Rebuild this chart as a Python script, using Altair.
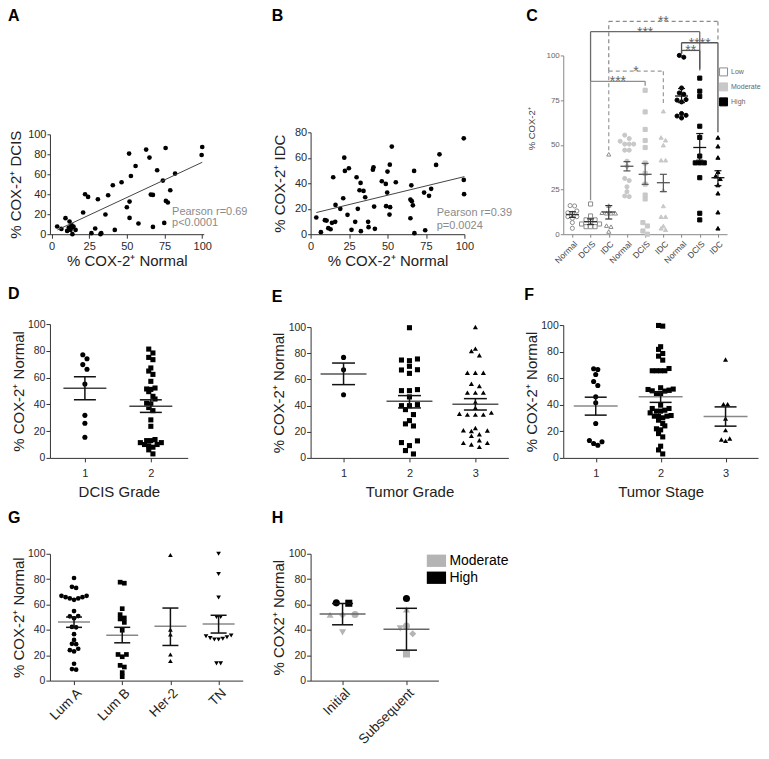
import json
import altair as alt
import pandas as pd

FONT = "Liberation Sans"
SUP = "\u207a"

# ---------------- Panel A: % COX-2+ DCIS vs Normal ----------------
A_normal = [3.8, 6.6, 9.3, 10.4, 11.5, 12.0, 12.6, 13.3, 13.9, 13.7, 14.6, 16.0, 21.0, 22.3, 24.3, 26.5,
            29.0, 30.8, 32.5, 33.0, 35.8, 37.6, 40.7, 42.0, 46.5, 50.0, 51.5, 51.8, 51.8, 52.7, 55.8, 57.7,
            62.8, 65.0, 65.9, 67.3, 67.3, 70.1, 73.9, 74.8, 75.7, 75.9, 77.2, 78.8, 82.0, 99.6, 100.0]
A_dcis = [7.7, 5.3, 16.0, 3.3, 6.7, 12.7, 4.3, 9.0, 0.0, 6.7, 7.7, 4.3, 21.7, 40.0, 37.3, 1.0,
          5.7, 35.0, 0.0, 1.0, 19.7, 39.0, 49.0, 4.3, 52.0, 27.0, 80.7, 32.7, 16.3, 58.3, 68.3, 10.7,
          84.7, 76.7, 39.7, 39.3, 7.3, 64.0, 53.7, 11.3, 86.3, 33.3, 31.7, 44.0, 60.7, 79.3, 87.3]
A_fit_x = [4.0, 100.0]
A_fit_y = [4.3, 72.0]
A_text = ["Pearson r=0.69", "p<0.0001"]

# ---------------- Panel B: % COX-2+ IDC vs Normal ----------------
B_normal = [3.7, 6.7, 9.3, 10.4, 11.5, 13.0, 13.9, 14.7, 16.0, 16.2, 19.3, 21.2, 21.9, 22.3, 24.0, 24.9,
            26.6, 29.0, 29.9, 30.7, 31.8, 32.5, 32.7, 34.4, 35.5, 37.4, 37.7, 40.5, 40.9, 41.3, 41.8, 46.3,
            48.9, 50.0, 49.8, 49.1, 51.3, 51.5, 51.7, 52.8, 55.4, 64.9, 64.9, 65.8, 65.5, 66.5, 67.3, 67.5,
            73.8, 74.5, 77.0, 78.4, 81.6, 83.8, 99.6, 99.6, 99.8]
B_idc = [13.1, 1.6, 11.0, 10.7, 4.7, 3.9, 8.9, 44.7, 9.7, 23.0, 19.9, 28.2, 60.1, 49.7, 15.2, 51.8,
         3.4, 9.7, 44.7, 19.9, 34.5, 40.3, 2.4, 34.0, 29.0, 9.7, 5.5, 50.7, 52.5, 21.7, 4.2, 41.6,
         39.5, 49.2, 32.7, 22.0, 15.4, 54.6, 21.2, 68.8, 40.8, 12.5, 27.2, 25.9, 38.4, 22.7, 49.7, 0.8,
         32.7, 3.1, 30.1, 35.6, 54.4, 62.7, 75.3, 42.6, 31.4]
B_fit_x = [3.7, 100.0]
B_fit_y = [17.0, 45.2]
B_text = ["Pearson r=0.39", "p=0.0024"]

# ---------------- Panel C: COX-2 by tissue and level ----------------
C_tissue = ["Normal", "DCIS", "IDC", "Normal", "DCIS", "IDC", "Normal", "DCIS", "IDC"]
C_level = ["Low", "Low", "Low", "Moderate", "Moderate", "Moderate", "High", "High", "High"]
C_values = [
    [16.0, 15.8, 13.0, 12.0, 11.7, 9.8, 9.8, 8.9, 6.5, 3.3],
    [16.9, 10.2, 8.0, 8.0, 7.0, 5.7, 5.7, 4.2, 4.2, 4.2],
    [44.7, 16.0, 12.0, 11.7, 11.7, 11.7, 4.8, 4.2, 1.5],
    [55.4, 53.5, 52.0, 50.4, 50.4, 50.4, 47.0, 47.0, 40.9, 38.0, 31.2, 30.0, 26.5, 23.8, 21.4, 21.0],
    [80.5, 68.4, 58.6, 52.4, 48.5, 39.8, 34.0, 28.0, 21.9, 19.7, 6.5, 4.6, 1.8, 0.0],
    [68.8, 54.1, 52.6, 49.8, 41.4, 41.4, 24.7, 15.8, 9.8, 9.8, 4.6, 3.3, 2.5],
    [100.0, 99.0, 81.8, 79.0, 78.3, 75.3, 75.0, 74.0, 67.5, 66.5, 66.1, 65.0],
    [87.3, 80.0, 77.1, 60.4, 54.1, 43.7, 39.9, 39.9, 39.9, 31.6, 11.7, 8.0],
    [54.1, 49.2, 42.9, 34.9, 32.5, 31.0, 27.5, 22.9, 12.3, 3.3],
]
C_mean = [11.0, 7.0, 12.4, 38.0, 33.5, 28.8, 77.3, 48.5, 31.6]
C_sem_lo = [9.4, 5.4, 8.5, 35.4, 27.9, 23.8, 73.6, 41.4, 27.2]
C_sem_hi = [12.6, 8.6, 16.0, 40.6, 39.6, 33.5, 81.5, 56.3, 35.5]
C_br_left = [2, 3, 2, 3, 7, 7]
C_br_right = [5, 6, 8, 9, 9, 8]
C_br_top = [85.5, 91.2, 113.3, 119.0, 107.1, 102.8]
C_br_lbot = [19.0, 47.0, 85.5, 91.2, 101.0, 101.0]
C_br_rbot = [83.0, 72.0, 91.5, 107.1, 57.0, 92.6]
C_br_label = ["***", "*", "***", "**", "****", "**"]

# ---------------- Panel D: DCIS grade ----------------
D_labels = ["1", "2"]
D_values = [
    [77.1, 74.1, 69.7, 66.2, 55.2, 31.8, 25.9, 15.4],
    [81.3, 78.4, 75.1, 73.4, 67.2, 64.9, 62.4, 57.2, 52.2, 51.5, 51.2, 49.5, 46.0, 44.0, 40.8, 40.3,
     37.6, 35.3, 28.4, 23.6, 13.7, 12.9, 12.9, 11.4, 11.4, 10.0, 10.0, 9.0, 8.0, 6.0, 3.0],
]
D_mean = [52.0, 38.6]
D_lo = [43.5, 34.0]
D_hi = [60.7, 43.4]

# ---------------- Panel E: tumor grade ----------------
E_labels = ["1", "2", "3"]
E_values = [
    [76.8, 67.4, 48.3],
    [99.5, 75.6, 74.8, 74.3, 70.0, 67.4, 67.2, 64.6, 52.2, 51.4, 51.4, 46.6, 40.7, 39.9, 39.9, 36.9,
     33.1, 28.5, 26.0, 24.4, 13.0, 11.7, 9.4, 5.6, 3.0],
    [100.0, 83.5, 81.7, 78.4, 65.1, 65.1, 65.1, 56.7, 55.0, 49.9, 49.9, 49.9, 42.7, 38.2, 34.6, 33.8,
     33.1, 33.1, 33.1, 22.9, 21.1, 20.9, 20.6, 18.1, 16.8, 13.5, 11.5, 11.5, 10.2, 8.4],
]
E_mean = [64.2, 43.3, 41.0]
E_lo = [56.0, 38.2, 36.6]
E_hi = [72.5, 47.6, 45.3]

# ---------------- Panel F: tumor stage ----------------
F_labels = ["1", "2", "3"]
F_values = [
    [67.1, 66.6, 62.8, 57.5, 54.5, 46.0, 41.5, 25.9, 13.1, 12.1, 10.8, 9.5],
    [99.7, 99.2, 83.7, 81.7, 78.6, 76.6, 73.6, 67.3, 65.6, 65.6, 65.6, 65.6, 52.8, 51.8, 51.5, 51.0,
     50.5, 50.3, 48.5, 48.5, 39.7, 37.2, 37.2, 35.9, 35.2, 35.2, 33.9, 31.9, 31.4, 31.4, 31.2, 30.2,
     28.4, 25.9, 24.1, 21.9, 21.1, 18.3, 15.8, 8.8, 6.0, 3.0],
    [74.1, 40.5, 40.5, 29.7, 20.9, 14.6, 13.9, 12.8],
]
F_mean = [39.0, 46.0, 31.2]
F_lo = [32.2, 41.8, 23.9]
F_hi = [45.7, 49.5, 38.4]

# ---------------- Panel G: subtype ----------------
G_labels = ["Lum A", "Lum B", "Her-2", "TN"]
G_values = [
    [80.9, 73.9, 73.1, 66.8, 66.8, 65.8, 65.8, 64.8, 64.8, 63.7, 54.8, 50.9, 50.7, 49.1, 42.3, 42.0,
     36.6, 32.1, 29.0, 28.7, 25.1, 24.0, 23.0, 13.3, 9.1, 8.6],
    [77.6, 76.8, 56.7, 52.0, 49.4, 48.6, 45.9, 39.7, 20.6, 20.6, 18.8, 12.0, 10.7, 6.3, 3.1],
    [99.0, 40.2, 36.3, 20.6, 15.4],
    [100.0, 84.1, 65.5, 50.1, 50.1, 35.5, 35.0, 34.2, 33.0, 32.4, 32.4, 33.5, 13.6, 13.6],
]
G_mean = [46.2, 35.7, 42.8, 44.6]
G_lo = [42.0, 29.8, 27.7, 37.5]
G_hi = [50.1, 42.0, 57.2, 51.5]

# ---------------- Panel H: initial vs subsequent ----------------
H_labels = ["Initial", "Subsequent"]
H_values = [[61.3, 61.0, 51.9, 51.7, 52.1, 38.0],
            [64.8, 56.2, 43.0, 41.2, 37.0, 21.0]]
H_shapes = [["circle", "square", "triangle-up", "diamond", "circle", "triangle-down"],
            ["circle", "triangle-up", "circle", "triangle-down", "diamond", "square"]]
H_levels = [["High", "High", "Moderate", "Moderate", "Moderate", "Moderate"],
            ["High", "Moderate", "Moderate", "Moderate", "Moderate", "Moderate"]]
H_mean = [52.5, 40.4]
H_lo = [44.0, 24.0]
H_hi = [60.8, 57.0]


# ======================================================================
def ax(**kw):
    base = dict(grid=False, labelFont=FONT, titleFont=FONT, labelFlush=False, labelOverlap=False,
                titleFontWeight="normal", domainColor="#333", tickColor="#333", labelColor="#2a2a2a",
                titleColor="#222", domainWidth=1, tickWidth=1, labelPadding=2, tickSize=4)
    base.update(kw)
    return alt.Axis(**base)


def letter_layer(ch, x, y):
    return alt.Chart(pd.DataFrame({"t": [ch]})).mark_text(
        align="left", baseline="top", fontSize=16, fontWeight="bold", font=FONT, color="black"
    ).encode(x=alt.value(x), y=alt.value(y), text="t:N")


def swarm(values, ppu_y, row_px, slot_px, ppu_x):
    """Prism-like dot arrangement: points of similar height share a centred row."""
    order = sorted(range(len(values)), key=lambda i: values[i])
    offs = [0.0] * len(values)
    rows, cur, start = [], [], None
    for i in order:
        if cur and (values[i] - start) * ppu_y > row_px:
            rows.append(cur)
            cur = []
        if not cur:
            start = values[i]
        cur.append(i)
    if cur:
        rows.append(cur)
    for row in rows:
        slots = [0 if k == 0 else ((k + 1) // 2) * (-1 if k % 2 else 1) for k in range(len(row))]
        shift = -sum(slots) / len(slots)
        for i, s in zip(row, slots):
            offs[i] = (s + shift) * slot_px / ppu_x
    return offs


def scatter_panel(letter, lxy, xs, ys, fit_x, fit_y, texts, tx, ty, ydom, yvals, ytop, ytitle,
                  width, height, xdom, ytitle_x):
    X = alt.X("x:Q", scale=alt.Scale(domain=xdom, nice=False, zero=False),
              axis=ax(values=[0, 25, 50, 75, 100], title="% COX-2" + SUP + " Normal",
                      labelFontSize=11, titleFontSize=15, titleY=19))
    Y = alt.Y("y:Q", scale=alt.Scale(domain=ydom, nice=False, zero=False, range=[height, ytop]),
              axis=ax(values=yvals, title=ytitle, labelFontSize=11, titleFontSize=15, tickSize=3,
                      labelPadding=1, titleX=ytitle_x))
    pts = alt.Chart(pd.DataFrame({"x": xs, "y": ys})).mark_circle(
        size=22, color="black", opacity=1).encode(X, Y)
    fit = alt.Chart(pd.DataFrame({"x": fit_x, "y": fit_y})).mark_line(
        color="#444", strokeWidth=1).encode(X, Y)
    txt = alt.Chart(pd.DataFrame({"x": tx, "y": ty, "t": texts})).mark_text(
        align="left", baseline="middle", fontSize=11, color="#8a8a8a", font=FONT
    ).encode(X, Y, text="t:N")
    return alt.layer(pts, fit, txt, letter_layer(letter, *lxy)).properties(width=width, height=height)


def dot_panel(letter, lxy, groups, shapes, labels, means, lo, hi, width, height, ytop, ytitle,
              xtitle, dom, size, slot_px, row_px, mean_w, cap_w, mean_color, ytitle_x,
              rotate=False, levels=None, legend=None):
    n = len(groups)
    ppu_y = (height - ytop) / 100.0
    ppu_x = width / (dom[1] - dom[0])
    recs = []
    for gi, vals in enumerate(groups):
        offs = swarm(vals, ppu_y, row_px, slot_px, ppu_x)
        for k, (v, o) in enumerate(zip(vals, offs)):
            shp = shapes[gi][k] if isinstance(shapes[gi], list) else shapes[gi]
            rec = {"x": gi + 1 + o, "y": v, "shape": shp}
            if levels:
                rec["level"] = levels[gi][k]
            recs.append(rec)
    df = pd.DataFrame(recs)
    cats = list(range(1, n + 1))
    lab_expr = json.dumps(labels) + "[datum.value - 1]"
    if rotate:
        xaxis = ax(values=cats, labelExpr=lab_expr, title=xtitle, labelAngle=-45, labelFontSize=13.5,
                   labelColor="#222", labelPadding=1)
    else:
        xaxis = ax(values=cats, labelExpr=lab_expr, title=xtitle, labelAngle=0, labelFontSize=11,
                   labelPadding=6, titleFontSize=15, titleY=27)
    X = alt.X("x:Q", scale=alt.Scale(domain=dom, nice=False, zero=False), axis=xaxis)
    Y = alt.Y("y:Q", scale=alt.Scale(domain=[0, 100], nice=False, zero=False, range=[height, ytop]),
              axis=ax(values=[0, 20, 40, 60, 80, 100], title=ytitle, titleX=ytitle_x,
                      labelFontSize=10.5, titleFontSize=15, tickSize=4, labelPadding=1))
    if legend is not None:
        col = alt.Color("level:N", scale=alt.Scale(domain=["Moderate", "High"],
                                                   range=["#b4b4b4", "black"]), legend=legend)
    else:
        col = alt.value("black")
    pts = alt.Chart(df).mark_point(filled=True, opacity=1, size=size, strokeWidth=0).encode(
        X, Y, shape=alt.Shape("shape:N", scale=None), color=col)
    dfm = pd.DataFrame({"x": cats, "y": means})
    dfs = pd.DataFrame({"x": cats, "y": lo, "y2": hi})
    dfc = pd.DataFrame({"x": cats + cats, "y": lo + hi})
    mean = alt.Chart(dfm).mark_tick(orient="horizontal", size=mean_w, thickness=1.5,
                                    color=mean_color, opacity=1).encode(X, Y)
    sem = alt.Chart(dfs).mark_rule(color="#111", strokeWidth=1.5).encode(X, Y, y2="y2:Q")
    caps = alt.Chart(dfc).mark_tick(orient="horizontal", size=cap_w, thickness=1.5,
                                    color="#111", opacity=1).encode(X, Y)
    return alt.layer(pts, mean, sem, caps, letter_layer(letter, *lxy)).properties(
        width=width, height=height)


def panel_c():
    width, height = 164, 179
    ppu_x = width / 9.0
    shape_of = {"Normal": "circle", "DCIS": "square", "IDC": "triangle-up"}
    recs = []
    for gi, vals in enumerate(C_values):
        offs = swarm(vals, height / 100.0, 3.5, 4.5, ppu_x)
        for v, o in zip(vals, offs):
            recs.append({"x": gi + 1 + o, "y": v, "shape": shape_of[C_tissue[gi]],
                         "level": C_level[gi]})
    df = pd.DataFrame(recs)
    lab_expr = json.dumps(C_tissue) + "[datum.value - 1]"
    X = alt.X("x:Q", scale=alt.Scale(domain=[0.5, 9.5], nice=False, zero=False),
              axis=ax(values=list(range(1, 10)), labelExpr=lab_expr, title=None, labelAngle=-45,
                      labelFontSize=8.5, labelColor="#444", domainColor="#888", tickColor="#888",
                      tickSize=3))
    Y = alt.Y("y:Q", scale=alt.Scale(domain=[0, 100], nice=False, zero=False),
              axis=ax(values=[0, 25, 50, 75, 100], title="% COX-2" + SUP, labelFontSize=8,
                      labelColor="#666", domainColor="#888", tickColor="#888", tickSize=3,
                      labelPadding=1, titleFontSize=9.5, titleColor="#444", titleX=-27, titleY=73))
    lvl_dom = ["Low", "Moderate", "High"]
    leg = alt.Legend(orient="none", legendX=156, legendY=12, title=None, symbolType="square",
                     symbolSize=64, labelFontSize=7, labelColor="#666", labelFont=FONT,
                     rowPadding=2, padding=0, symbolStrokeWidth=1, labelOffset=3)
    pts = alt.Chart(df).mark_point(filled=True, opacity=1, size=17, strokeWidth=1).encode(
        X, Y, shape=alt.Shape("shape:N", scale=None),
        fill=alt.Fill("level:N", scale=alt.Scale(domain=lvl_dom, range=["white", "#c8c8c8", "black"]),
                      legend=leg),
        stroke=alt.Stroke("level:N", scale=alt.Scale(domain=lvl_dom,
                                                     range=["#8c8c8c", "#c8c8c8", "black"]),
                          legend=leg))
    cats = list(range(1, 10))
    bar_col = ["#333", "#333", "#333", "#555", "#555", "#555", "#111", "#111", "#111"]
    dfm = pd.DataFrame({"x": cats, "y": C_mean, "c": bar_col})
    dfs = pd.DataFrame({"x": cats, "y": C_sem_lo, "y2": C_sem_hi, "c": bar_col})
    dfc = pd.DataFrame({"x": cats + cats, "y": C_sem_lo + C_sem_hi, "c": bar_col + bar_col})
    colenc = alt.Color("c:N", scale=None)
    mean = alt.Chart(dfm).mark_tick(orient="horizontal", size=13, thickness=1.3, opacity=1).encode(
        X, Y, color=colenc)
    sem = alt.Chart(dfs).mark_rule(strokeWidth=1.2).encode(X, Y, y2="y2:Q", color=colenc)
    caps = alt.Chart(dfc).mark_tick(orient="horizontal", size=7, thickness=1.2, opacity=1).encode(
        X, Y, color=colenc)
    # significance brackets
    dashed = [False, True, False, True, False, False]
    bcol = ["#8f8f8f", "#9a9a9a", "#6a6a6a", "#8a8a8a", "#555555", "#555555"]
    segs = []
    for i in range(len(C_br_left)):
        l, r, t = C_br_left[i], C_br_right[i], C_br_top[i]
        for (x1, x2, y1, y2) in [(l, l, C_br_lbot[i], t), (l, r, t, t), (r, r, t, C_br_rbot[i])]:
            segs.append({"x": x1, "x2": x2, "y": y1, "y2": y2, "c": bcol[i], "d": dashed[i]})
    dseg = pd.DataFrame(segs)
    solid = alt.Chart(dseg[~dseg["d"]].drop(columns="d")).mark_rule(strokeWidth=1.3).encode(
        X, Y, x2="x2:Q", y2="y2:Q", color=colenc)
    dash = alt.Chart(dseg[dseg["d"]].drop(columns="d")).mark_rule(
        strokeWidth=1.2, strokeDash=[4, 3]).encode(X, Y, x2="x2:Q", y2="y2:Q", color=colenc)
    dstar = pd.DataFrame({"x": [(a + b) / 2 for a, b in zip(C_br_left, C_br_right)],
                          "y": C_br_top, "t": C_br_label})
    stars = alt.Chart(dstar).mark_text(baseline="alphabetic", dy=5, fontSize=14, color="#666",
                                       font=FONT).encode(X, Y, text="t:N")
    return alt.layer(solid, dash, pts, mean, sem, caps, stars,
                     letter_layer("C", -37, -47)).properties(width=width, height=height)


def spacer(w):
    return alt.Chart(pd.DataFrame({"a": [0]})).mark_point(opacity=0, size=1).encode(
        x=alt.value(0), y=alt.value(0)).properties(width=w, height=1)


yN = "% COX-2" + SUP + " Normal"

pA = scatter_panel("A", (-42, -47), A_normal, A_dcis, A_fit_x, A_fit_y, A_text, [80, 80], [22, 11],
                   [0, 100], [0, 20, 40, 60, 80, 100], 79, "% COX-2" + SUP + " DCIS", 154, 179,
                   [-1, 101], -26)
pB = scatter_panel("B", (-39, -47), B_normal, B_idc, B_fit_x, B_fit_y, B_text, [82, 82], [17, 6.5],
                   [0, 80], [0, 20, 40, 60, 80], 77, "% COX-2" + SUP + " IDC", 154, 179,
                   [0, 100], -23)
pC = panel_c()

pD = dot_panel("D", (-42, -38), D_values, ["circle", "square"], D_labels, D_mean, D_lo, D_hi,
               138, 134, 0, yN, "DCIS Grade", [0.47, 2.56], 26, 4.2, 5, 43, 22, "#444", -23)
pE = dot_panel("E", (-39, -35), E_values, ["circle", "square", "triangle-up"], E_labels, E_mean,
               E_lo, E_hi, 198, 134, 3, yN, "Tumor Grade", [0.5, 3.5], 26, 8, 5, 46, 23, "#555", -24)
pF = dot_panel("F", (-39, -37), F_values, ["circle", "square", "triangle-up"], F_labels, F_mean,
               F_lo, F_hi, 195, 134, 1, yN, "Tumor Stage", [0.5, 3.5], 26, 4.2, 5, 44, 22, "#888", -24)
pG = dot_panel("G", (-42, -38), G_values, ["circle", "square", "triangle-up", "triangle-down"],
               G_labels, G_mean, G_lo, G_hi, 193, 133, 6, yN, None, [0.5, 4.5], 22, 4.2, 4, 32, 16,
               "#888", -23, rotate=True)
legH = alt.Legend(orient="none", legendX=116, legendY=3, title=None,
                  symbolType="M-1,-0.64L1,-0.64L1,0.64L-1,0.64Z", symbolSize=372, labelFontSize=14,
                  labelColor="black", labelFont=FONT, rowPadding=0, padding=0, symbolStrokeWidth=0,
                  labelOffset=3)
pH = dot_panel("H", (-39, -38), H_values, H_shapes, H_labels, H_mean, H_lo, H_hi, 128, 133, 6,
               "% COX2" + SUP + " Normal", None, [0.5, 2.5], 50, 12.5, 6, 46, 21, "#666", -24,
               rotate=True, levels=H_levels, legend=legH)

chart = alt.concat(
    pA, spacer(68), pB, spacer(55), pC,
    pD, spacer(68), pE, spacer(55), pF,
    pG, spacer(68), pH, spacer(55), spacer(10),
    columns=5, spacing={"row": 90, "column": 0}, bounds="flush",
    padding={"left": 0, "top": 0, "right": 0, "bottom": 0},
    autosize=alt.AutoSizeParams(type="pad", contains="padding"),
).resolve_scale(
    color="independent", fill="independent", stroke="independent", shape="independent"
).configure(font=FONT).configure_view(stroke="transparent", strokeWidth=0)

chart.save("out.html", embed_options={"renderer": "svg", "actions": False})
